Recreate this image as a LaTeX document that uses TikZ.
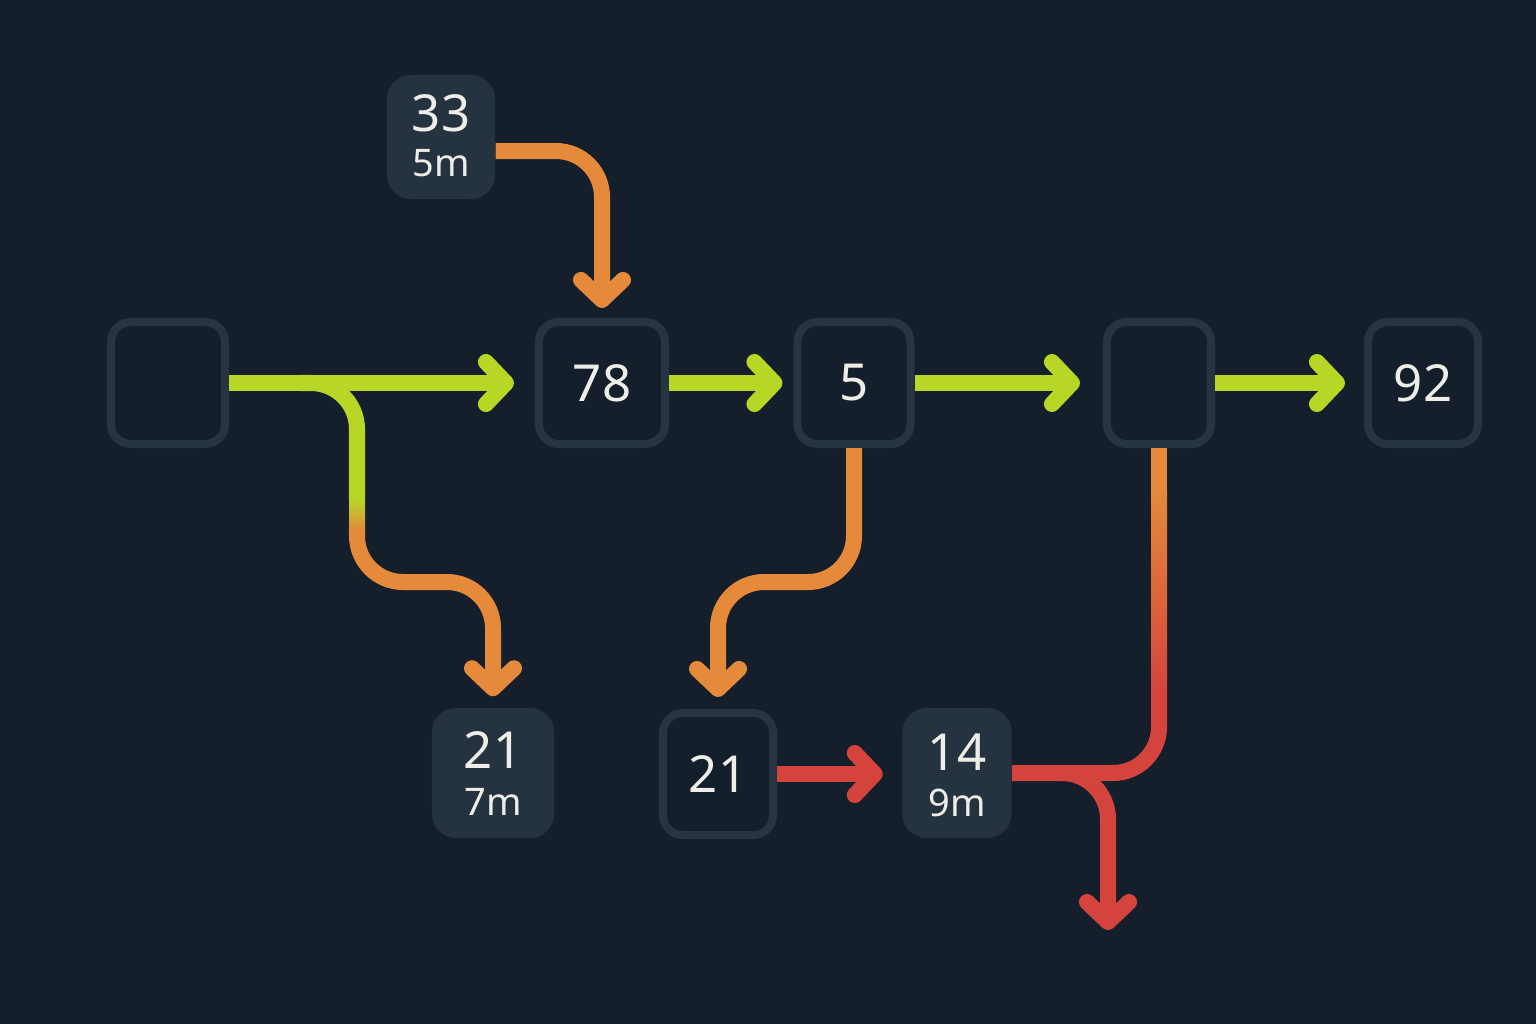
\documentclass[tikz,border=0pt]{standalone}
\usepackage{fontspec}
\setmainfont{Noto Sans}
\usetikzlibrary{arrows.meta,positioning}
\definecolor{bgDark}{RGB}{21,31,43}
\definecolor{cardFill}{RGB}{37,50,64}
\definecolor{boxEdge}{RGB}{39,52,65}
\definecolor{flowGreen}{RGB}{183,214,38}
\definecolor{flowOrange}{RGB}{229,137,58}
\definecolor{flowRed}{RGB}{213,68,60}
\definecolor{labelWhite}{RGB}{238,238,232}
\newcommand{\bignum}{\fontsize{14.5}{17}\selectfont}
\newcommand{\smallnum}{\fontsize{10.8}{13}\selectfont}

\begin{document}
\begin{tikzpicture}[x=0.01cm,y=-0.01cm,
    box/.style={draw=boxEdge, line width=0.08cm, fill=bgDark, rounded corners=0.2cm,
        minimum height=1.22cm, inner sep=0pt, text=labelWhite, font=\bignum},
    card/.style={fill=cardFill, rounded corners=0.24cm, minimum height=1.30cm, inner sep=0pt},
    numtxt/.style={text=labelWhite, font=\bignum, inner sep=0pt},
    unittxt/.style={text=labelWhite, font=\smallnum, inner sep=0pt},
    wire/.style={line width=0.16cm, rounded corners=0.46cm},
    flow/.style={wire, -{Straight Barb[length=0.2cm,width=0.42cm,round]}}]
    % background
    \fill[bgDark] (0,0) rectangle (1536,1024);

    % outlined boxes
    \node[box, minimum width=1.14cm] (src) at (168,383) {};
    \node[box, minimum width=1.26cm] (n78) at (602,383) {78};
    \node[box, minimum width=1.13cm] (n5) at (854,383) {5};
    \node[box, minimum width=1.04cm] (hub) at (1159,383) {};
    \node[box, minimum width=1.10cm] (n92) at (1423,383) {92};
    \node[box, minimum width=1.10cm] (n21b) at (718,774) {21};

    % filled cards
    \node[card, minimum width=1.08cm, minimum height=1.24cm] (n33) at (441,137) {};
    \node[card, minimum width=1.22cm] (n21a) at (493,773) {};
    \node[card, minimum width=1.09cm] (n14) at (957,773) {};
    \node[numtxt] (n33num) at ([yshift=0.24cm]n33.center) {33};
    \node[unittxt] (n33unit) at ([yshift=-0.26cm]n33.center) {5m};
    \node[numtxt] (n21anum) at ([yshift=0.23cm]n21a.center) {21};
    \node[unittxt] (n21aunit) at ([yshift=-0.29cm]n21a.center) {7m};
    \node[numtxt] (n14num) at ([yshift=0.21cm]n14.center) {14};
    \node[unittxt] (n14unit) at ([yshift=-0.30cm]n14.center) {9m};

    % main flow
    \draw[flow, flowGreen, shorten >=0.21cm] (src) -- (n78);
    \draw[flow, flowGreen, shorten >=0.11cm] (n78) -- (n5);
    \draw[flow, flowGreen, shorten >=0.23cm] (n5) -- (hub);
    \draw[flow, flowGreen, shorten >=0.19cm] (hub) -- (n92);

    % feed from 33
    \draw[flow, flowOrange, shorten >=0.10cm] ([yshift=-0.14cm]n33.east) -| (n78.north);

    % branch down to 21 / 7m
    \coordinate (split1) at (300,383);
    \coordinate (fadeA) at (357,500);
    \coordinate (fadeB) at (357,530);
    \draw[wire, flowGreen] (split1) -- (357,383) -- (fadeA);
    \shade[top color=flowGreen, bottom color=flowOrange] (349,500) rectangle (365,530);
    \draw[flow, flowOrange, shorten >=0.11cm] (fadeB) -- (357,582) -- (493,582) -- (n21a.north);

    % 5 down to 21
    \draw[flow, flowOrange, shorten >=0.12cm] (n5.south) -- (854,582) -- (718,582) -- (n21b.north);
    \draw[flow, flowRed, shorten >=0.19cm] (n21b) -- (n21b -| n14.west);

    % hub down to 14 and out
    \coordinate (hubfadeA) at (1159,490);
    \coordinate (hubfadeB) at (1159,690);
    \draw[wire, flowOrange] (hub.south) -- (hubfadeA);
    \shade[top color=flowOrange, bottom color=flowRed] (1151,490) rectangle (1167,690);
    \draw[wire, flowRed] (hubfadeB) |- (n14.east);
    \coordinate (split2) at (1060,773);
    \coordinate (sink) at (1108,930);
    \draw[flow, flowRed] (split2) -| (sink);
\end{tikzpicture}
\end{document}
